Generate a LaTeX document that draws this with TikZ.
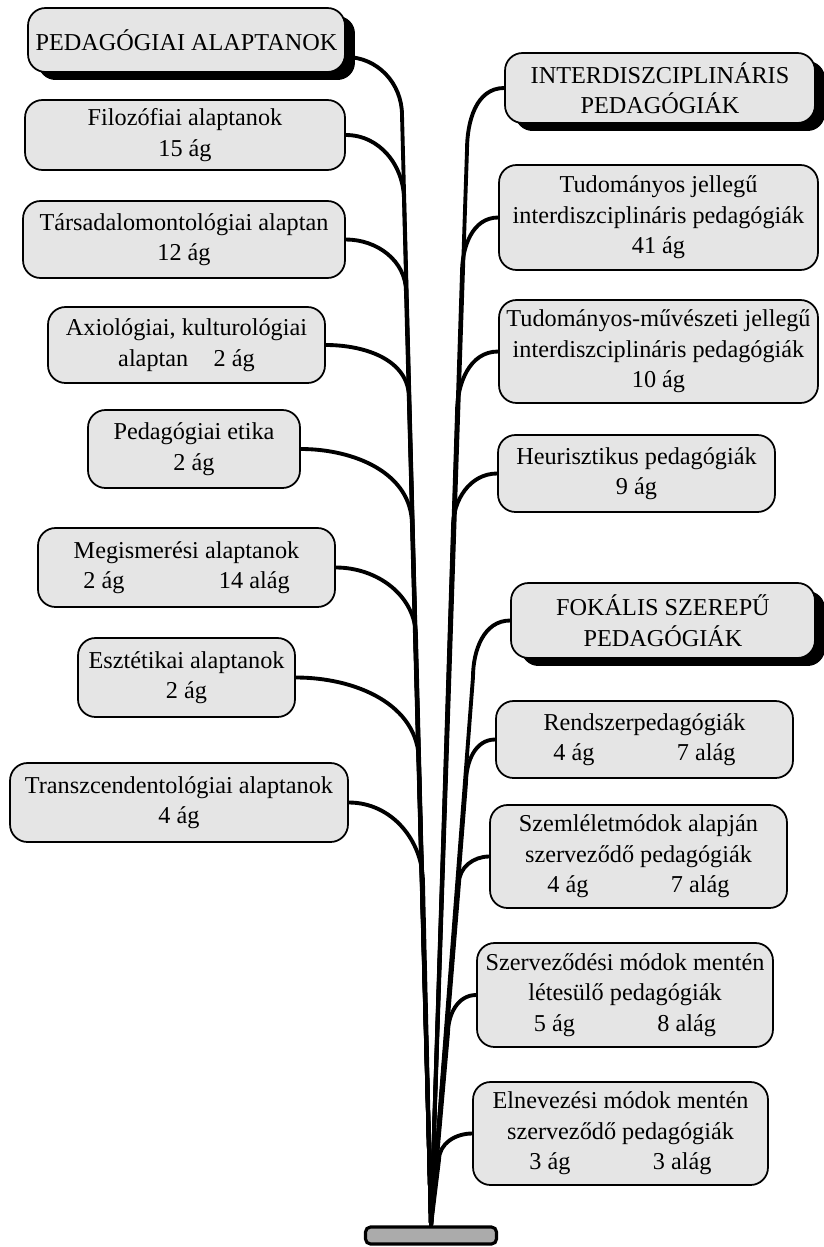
\documentclass[tikz,border=0pt]{standalone}
\usepackage{fontspec}
\setmainfont{Liberation Serif}
\usetikzlibrary{shadows}

\begin{document}
\begin{tikzpicture}[x=0.02cm,y=-0.02cm]
\tikzset{every node/.style={font=\fontsize{13.8}{17.4}\selectfont}}
\tikzset{box/.style={draw,line width=1pt,fill=black!10,rounded corners=0.35cm,align=center,inner sep=0pt}}
\tikzset{headbox/.style={box,drop shadow={shadow xshift=0.2cm,shadow yshift=-0.16cm,fill=black,opacity=1}}}
\tikzset{branch/.style={line width=2.2pt}}
\tikzset{stand/.style={draw,line width=1.8pt,fill=black!33,rounded corners=0.1cm,minimum width=2.62cm,minimum height=0.34cm,inner sep=0pt}}
\useasboundingbox (0,0) rectangle (823,1247);
\node[stand] (stand) at (431,1235.5) {};
% left column
\node[headbox,minimum width=6.34cm,minimum height=1.28cm] (ped) at (186.5,40) {PEDAGÓGIAI ALAPTANOK};
\node[box,minimum width=6.4cm,minimum height=1.4cm] (filo) at (185,135) {Filozófiai alaptanok\\15 ág};
\node[box,minimum width=6.44cm,minimum height=1.54cm] (tars) at (184,239.5) {Társadalomontológiai alaptan\\12 ág};
\node[box,minimum width=5.54cm,minimum height=1.52cm] (axio) at (186.5,345) {Axiológiai, kulturológiai\\alaptan\hspace{1.05em}2 ág};
\node[box,minimum width=4.24cm,minimum height=1.56cm] (etika) at (194,449) {Pedagógiai etika\\2 ág};
\node[box,minimum width=5.94cm,minimum height=1.58cm] (megis) at (186.5,567.5) {Megismerési alaptanok\\2 ág\hspace{3.9em}14 alág};
\node[box,minimum width=4.34cm,minimum height=1.58cm] (eszt) at (186.5,677.5) {Esztétikai alaptanok\\2 ág};
\node[box,minimum width=6.76cm,minimum height=1.58cm] (transz) at (179,802.5) {Transzcendentológiai alaptanok\\4 ág};
% right column
\node[headbox,minimum width=6.2cm,minimum height=1.4cm] (inter) at (660,88) {INTERDISZCIPLINÁRIS\\PEDAGÓGIÁK};
\node[box,minimum width=6.38cm,minimum height=2.1cm] (tud) at (658.5,217.5) {Tudományos jellegű\\interdiszciplináris pedagógiák\\41 ág};
\node[box,minimum width=6.38cm,minimum height=2.06cm] (tudm) at (658.5,351.5) {Tudományos-művészeti jellegű\\interdiszciplináris pedagógiák\\10 ág};
\node[box,minimum width=5.54cm,minimum height=1.54cm] (heur) at (636.5,473.5) {Heurisztikus pedagógiák\\9 ág};
\node[headbox,minimum width=6.08cm,minimum height=1.5cm] (fok) at (663,620.5) {FOKÁLIS SZEREPŰ\\PEDAGÓGIÁK};
\node[box,minimum width=5.94cm,minimum height=1.54cm] (rend) at (644.5,739.5) {Rendszerpedagógiák\\4 ág\hspace{3.4em}7 alág};
\node[box,minimum width=5.94cm,minimum height=2.06cm] (szeml) at (638.5,856.5) {Szemléletmódok alapján\\szerveződő pedagógiák\\4 ág\hspace{3.4em}7 alág};
\node[box,minimum width=5.92cm,minimum height=2.08cm] (szerv) at (625,995) {Szerveződési módok mentén\\létesülő pedagógiák\\5 ág\hspace{3.4em}8 alág};
\node[box,minimum width=5.9cm,minimum height=2.06cm] (elnev) at (620.5,1133.5) {Elnevezési módok mentén\\szerveződő pedagógiák\\3 ág\hspace{3.4em}3 alág};
% where the branches join the trunk
\coordinate (mL0) at (402,115);
\coordinate (mL1) at (404,200);
\coordinate (mL2) at (406,292);
\coordinate (mL3) at (409,398);
\coordinate (mL4) at (412,525);
\coordinate (mL5) at (416,637);
\coordinate (mL6) at (419,762);
\coordinate (mL7) at (423,883);
\coordinate (mM0) at (467,150);
\coordinate (mM1) at (462,273);
\coordinate (mM2) at (457,413);
\coordinate (mM3) at (453,527);
\coordinate (mR0) at (473,677);
\coordinate (mR1) at (466,783);
\coordinate (mR2) at (459,883);
\coordinate (mR3) at (448,1033);
\coordinate (mR4) at (439,1160);
\draw[branch] ([yshift=-0.34cm]ped.east) to[out=0,in=90] (mL0) -- (stand.north);
\foreach \b/\m in {filo/mL1,tars/mL2,axio/mL3,etika/mL4,megis/mL5,eszt/mL6,transz/mL7}
  \draw[branch] (\b.east) to[out=0,in=90] (\m) -- (stand.north);
\foreach \b/\m in {inter/mM0,tud/mM1,tudm/mM2,heur/mM3,fok/mR0,rend/mR1,szeml/mR2,szerv/mR3,elnev/mR4}
  \draw[branch] (\b.west) to[out=180,in=90] (\m) -- (stand.north);
\end{tikzpicture}
\end{document}
